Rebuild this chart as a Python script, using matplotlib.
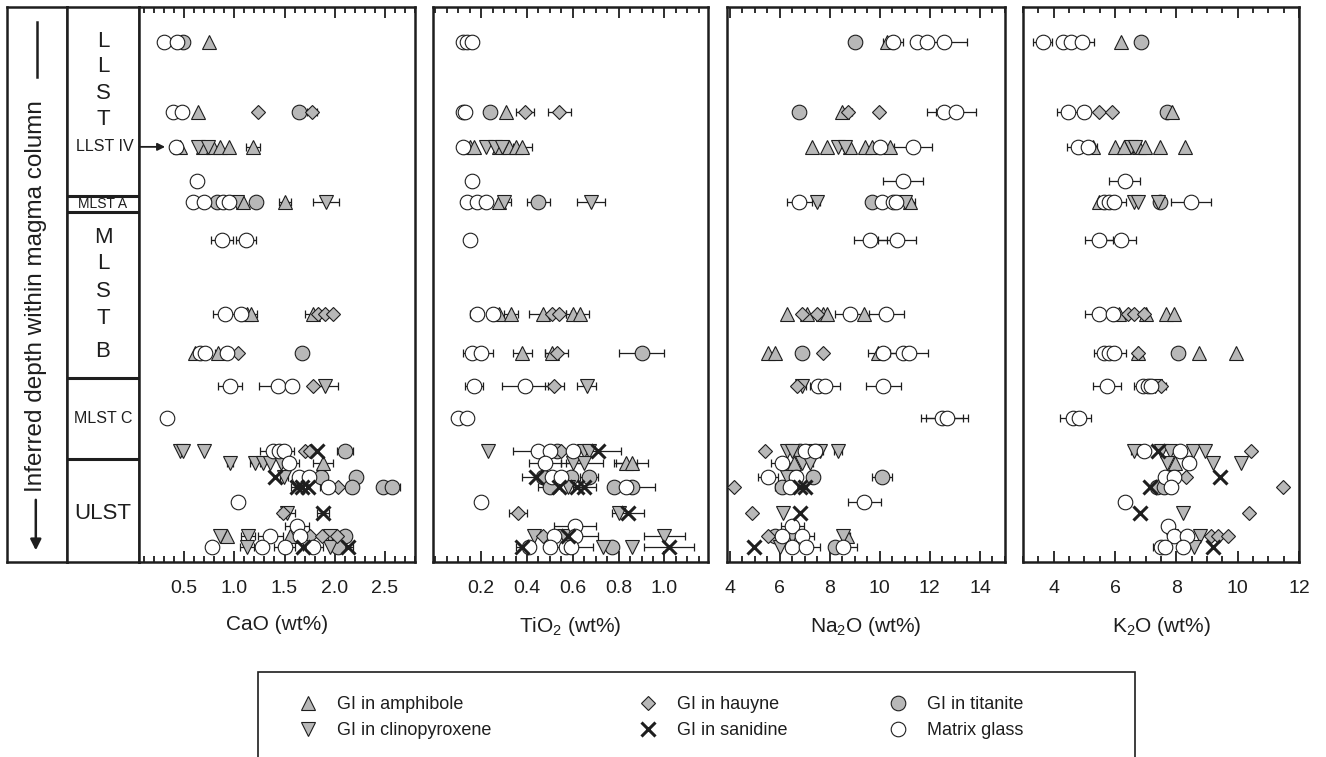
import matplotlib
matplotlib.use('Agg')
from matplotlib import pyplot as plt
from matplotlib.lines import Line2D
from matplotlib.patches import Rectangle
from matplotlib.ticker import MultipleLocator, FormatStrFormatter

plt.rcParams['font.family'] = ['Liberation Sans', 'DejaVu Sans']
plt.rcParams['mathtext.default'] = 'regular'

W, H = 1326, 757
INK = '#1e1e1e'
GREY = '#b8b8b8'

# stratigraphic position of each sampled level (0 = top of column, 100 = base)
ROW_DEPTH = [6.3, 18.9, 25.2, 31.4, 35.1, 42.0, 55.3, 62.3, 68.3, 74.1,
             80.0, 82.2, 84.7, 86.5, 89.2, 91.2, 93.5, 95.3, 97.3]

UNIT_BOUNDS = [34.1, 36.9, 66.8, 81.4]
UNIT_LABELS = [('L', 6.3, 16), ('L', 10.8, 16), ('S', 15.5, 16), ('T', 20.3, 16),
               ('MLST A', 35.5, 10), 
               ('M', 41.6, 16), ('L', 46.3, 16), ('S', 51.2, 16), ('T', 56.2, 16), ('B', 62.0, 16),
               ('MLST C', 74.1, 11.5), ('ULST', 91.2, 16)]

PHASES = ['tit', 'amph', 'cpx', 'hau', 'gl', 'san']
PHASE_NAMES = {'amph': 'GI in amphibole', 'cpx': 'GI in clinopyroxene',
               'hau': 'GI in hauyne', 'san': 'GI in sanidine',
               'tit': 'GI in titanite', 'gl': 'Matrix glass'}

# (row, phase, value wt%, 1 sigma)
CAO = [
    (0, 'gl', 0.30, 0), (0, 'gl', 0.43, 0), (0, 'tit', 0.49, 0), (0, 'amph', 0.75, 0),
    (1, 'gl', 0.39, 0), (1, 'gl', 0.48, 0), (1, 'amph', 0.64, 0), (1, 'hau', 1.24, 0),
    (1, 'tit', 1.64, 0), (1, 'hau', 1.77, 0.05),
    (2, 'gl', 0.42, 0), (2, 'amph', 0.46, 0), (2, 'cpx', 0.64, 0), (2, 'amph', 0.69, 0),
    (2, 'cpx', 0.74, 0), (2, 'amph', 0.79, 0), (2, 'amph', 0.86, 0), (2, 'amph', 0.95, 0),
    (2, 'amph', 1.19, 0.07),
    (3, 'gl', 0.63, 0.05),
    (4, 'gl', 0.59, 0.03), (4, 'gl', 0.70, 0), (4, 'tit', 0.83, 0.03), (4, 'gl', 0.89, 0),
    (4, 'gl', 0.95, 0), (4, 'cpx', 1.03, 0), (4, 'amph', 1.09, 0), (4, 'tit', 1.22, 0),
    (4, 'amph', 1.50, 0.06), (4, 'cpx', 1.91, 0.13),
    (5, 'gl', 0.88, 0.11), (5, 'gl', 1.12, 0.10),
    (6, 'gl', 0.91, 0.12), (6, 'gl', 1.07, 0), (6, 'amph', 1.13, 0), (6, 'amph', 1.17, 0.06),
    (6, 'amph', 1.78, 0.08), (6, 'hau', 1.83, 0), (6, 'hau', 1.90, 0), (6, 'hau', 1.98, 0.03),
    (7, 'amph', 0.61, 0), (7, 'gl', 0.66, 0), (7, 'gl', 0.71, 0), (7, 'amph', 0.84, 0.03),
    (7, 'gl', 0.93, 0), (7, 'hau', 1.04, 0), (7, 'tit', 1.67, 0.02),
    (8, 'gl', 0.96, 0.12), (8, 'gl', 1.43, 0.18), (8, 'gl', 1.57, 0), (8, 'hau', 1.78, 0.02),
    (8, 'cpx', 1.90, 0.13),
    (9, 'gl', 0.33, 0),
    (10, 'cpx', 0.46, 0), (10, 'cpx', 0.49, 0), (10, 'cpx', 0.70, 0), (10, 'gl', 1.39, 0.13),
    (10, 'gl', 1.44, 0), (10, 'gl', 1.49, 0.10), (10, 'hau', 1.70, 0), (10, 'hau', 1.75, 0),
    (10, 'san', 1.82, 0), (10, 'tit', 2.10, 0.08),
    (11, 'cpx', 0.96, 0.03), (11, 'cpx', 1.21, 0.05), (11, 'cpx', 1.29, 0), (11, 'cpx', 1.36, 0),
    (11, 'cpx', 1.46, 0), (11, 'gl', 1.54, 0.10), (11, 'amph', 1.88, 0.10),
    (12, 'san', 1.41, 0), (12, 'cpx', 1.49, 0.04), (12, 'gl', 1.64, 0), (12, 'gl', 1.74, 0),
    (12, 'tit', 1.86, 0), (12, 'tit', 2.21, 0),
    (13, 'san', 1.62, 0.06), (13, 'san', 1.67, 0), (13, 'san', 1.73, 0), (13, 'gl', 1.93, 0.08),
    (13, 'hau', 2.03, 0), (13, 'tit', 2.17, 0), (13, 'tit', 2.48, 0.05), (13, 'tit', 2.57, 0.08),
    (14, 'gl', 1.04, 0.05),
    (15, 'hau', 1.48, 0), (15, 'cpx', 1.52, 0.08), (15, 'san', 1.88, 0.06),
    (16, 'gl', 1.62, 0.12),
    (17, 'cpx', 0.86, 0), (17, 'amph', 0.93, 0), (17, 'cpx', 1.14, 0.07), (17, 'gl', 1.36, 0.12),
    (17, 'amph', 1.55, 0), (17, 'gl', 1.65, 0), (17, 'hau', 1.75, 0), (17, 'hau', 1.87, 0),
    (17, 'cpx', 1.95, 0), (17, 'hau', 2.02, 0.06), (17, 'tit', 2.10, 0),
    (18, 'gl', 0.78, 0), (18, 'cpx', 1.13, 0.07), (18, 'gl', 1.28, 0.05), (18, 'gl', 1.50, 0.10),
    (18, 'san', 1.68, 0), (18, 'gl', 1.78, 0.10), (18, 'cpx', 1.95, 0), (18, 'tit', 2.03, 0),
    (18, 'san', 2.13, 0.05),
]

TIO2 = [
    (0, 'gl', 0.12, 0), (0, 'gl', 0.14, 0), (0, 'gl', 0.16, 0),
    (1, 'gl', 0.12, 0), (1, 'gl', 0.13, 0), (1, 'tit', 0.24, 0.02), (1, 'amph', 0.31, 0),
    (1, 'hau', 0.39, 0.04), (1, 'hau', 0.54, 0.05),
    (2, 'gl', 0.12, 0), (2, 'amph', 0.15, 0), (2, 'amph', 0.17, 0), (2, 'cpx', 0.22, 0),
    (2, 'cpx', 0.26, 0), (2, 'amph', 0.28, 0), (2, 'cpx', 0.29, 0), (2, 'amph', 0.32, 0),
    (2, 'amph', 0.35, 0), (2, 'amph', 0.38, 0.04),
    (3, 'gl', 0.16, 0.01),
    (4, 'gl', 0.14, 0.01), (4, 'gl', 0.18, 0), (4, 'gl', 0.22, 0), (4, 'amph', 0.28, 0),
    (4, 'cpx', 0.30, 0.03), (4, 'tit', 0.45, 0.05), (4, 'cpx', 0.68, 0.06),
    (5, 'gl', 0.15, 0.01),
    (6, 'gl', 0.18, 0.03), (6, 'gl', 0.25, 0), (6, 'amph', 0.28, 0), (6, 'amph', 0.33, 0.03),
    (6, 'amph', 0.47, 0.06), (6, 'hau', 0.51, 0), (6, 'hau', 0.54, 0.03), (6, 'amph', 0.60, 0.03),
    (6, 'amph', 0.63, 0.04),
    (7, 'gl', 0.16, 0.04), (7, 'gl', 0.20, 0.05), (7, 'amph', 0.38, 0.04), (7, 'amph', 0.51, 0.03),
    (7, 'hau', 0.53, 0.05), (7, 'tit', 0.90, 0.10),
    (8, 'gl', 0.17, 0.04), (8, 'gl', 0.39, 0.10), (8, 'hau', 0.52, 0.04), (8, 'cpx', 0.66, 0.04),
    (9, 'gl', 0.10, 0), (9, 'gl', 0.14, 0.01),
    (10, 'cpx', 0.23, 0), (10, 'gl', 0.45, 0.11), (10, 'gl', 0.50, 0), (10, 'tit', 0.53, 0),
    (10, 'hau', 0.55, 0), (10, 'gl', 0.60, 0), (10, 'cpx', 0.65, 0), (10, 'cpx', 0.67, 0),
    (10, 'san', 0.71, 0.10),
    (11, 'gl', 0.48, 0.07), (11, 'cpx', 0.60, 0.05), (11, 'cpx', 0.65, 0.08), (11, 'amph', 0.83, 0.05),
    (11, 'amph', 0.86, 0.07),
    (12, 'san', 0.44, 0.06), (12, 'tit', 0.47, 0), (12, 'gl', 0.51, 0), (12, 'gl', 0.55, 0),
    (12, 'tit', 0.59, 0), (12, 'tit', 0.67, 0.04),
    (13, 'tit', 0.50, 0.05), (13, 'san', 0.54, 0), (13, 'cpx', 0.58, 0), (13, 'san', 0.62, 0),
    (13, 'san', 0.65, 0.05), (13, 'tit', 0.78, 0), (13, 'gl', 0.83, 0), (13, 'tit', 0.86, 0.10),
    (14, 'gl', 0.20, 0),
    (15, 'hau', 0.36, 0.04), (15, 'cpx', 0.80, 0), (15, 'san', 0.84, 0.07),
    (16, 'gl', 0.61, 0.09),
    (17, 'cpx', 0.43, 0), (17, 'hau', 0.47, 0), (17, 'gl', 0.52, 0), (17, 'cpx', 0.56, 0),
    (17, 'san', 0.58, 0), (17, 'gl', 0.61, 0.10), (17, 'cpx', 1.00, 0.09),
    (18, 'san', 0.38, 0.03), (18, 'gl', 0.41, 0), (18, 'gl', 0.50, 0), (18, 'gl', 0.57, 0),
    (18, 'gl', 0.59, 0.10), (18, 'cpx', 0.73, 0), (18, 'tit', 0.77, 0), (18, 'cpx', 0.86, 0),
    (18, 'san', 1.02, 0.11),
]

NA2O = [
    (0, 'tit', 9.02, 0.25), (0, 'amph', 10.29, 0), (0, 'gl', 10.53, 0.4), (0, 'gl', 11.49, 0),
    (0, 'gl', 11.89, 0), (0, 'gl', 12.57, 0.9),
    (1, 'tit', 6.79, 0.15), (1, 'amph', 8.50, 0), (1, 'hau', 8.74, 0.15), (1, 'hau', 9.98, 0.1),
    (1, 'gl', 12.57, 0.7), (1, 'gl', 13.04, 0.8),
    (2, 'amph', 7.31, 0), (2, 'amph', 7.90, 0), (2, 'cpx', 8.34, 0), (2, 'cpx', 8.62, 0.1),
    (2, 'amph', 8.82, 0), (2, 'amph', 9.42, 0), (2, 'amph', 9.70, 0), (2, 'gl', 10.02, 0),
    (2, 'amph', 10.41, 0), (2, 'gl', 11.33, 0.75),
    (3, 'gl', 10.93, 0.8),
    (4, 'gl', 6.79, 0.5), (4, 'cpx', 7.50, 0.1), (4, 'tit', 9.70, 0.2), (4, 'gl', 10.10, 0),
    (4, 'gl', 10.53, 0), (4, 'gl', 10.65, 0), (4, 'cpx', 11.00, 0), (4, 'amph', 11.20, 0.2),
    (5, 'gl', 9.62, 0.65), (5, 'gl', 10.69, 0.75),
    (6, 'amph', 6.31, 0), (6, 'hau', 6.91, 0), (6, 'amph', 7.10, 0), (6, 'hau', 7.51, 0),
    (6, 'amph', 7.75, 0), (6, 'amph', 7.90, 0), (6, 'gl', 8.82, 0.6), (6, 'amph', 9.38, 0),
    (6, 'gl', 10.25, 0.7),
    (7, 'amph', 5.55, 0), (7, 'amph', 5.83, 0), (7, 'tit', 6.91, 0.2), (7, 'hau', 7.75, 0),
    (7, 'amph', 9.94, 0), (7, 'gl', 10.14, 0.6), (7, 'gl', 10.93, 0), (7, 'gl', 11.17, 0.75),
    (8, 'hau', 6.71, 0), (8, 'cpx', 6.91, 0.15), (8, 'gl', 7.55, 0), (8, 'gl', 7.82, 0.6),
    (8, 'gl', 10.14, 0.7),
    (9, 'gl', 12.49, 0.85), (9, 'gl', 12.69, 0.85),
    (10, 'hau', 5.43, 0), (10, 'cpx', 6.31, 0), (10, 'cpx', 6.50, 0), (10, 'tit', 6.83, 0.3),
    (10, 'gl', 7.00, 0), (10, 'cpx', 7.30, 0), (10, 'gl', 7.43, 0.3), (10, 'cpx', 7.63, 0),
    (10, 'cpx', 8.34, 0.15),
    (11, 'gl', 6.11, 0.45), (11, 'amph', 6.59, 0), (11, 'cpx', 6.91, 0), (11, 'cpx', 7.23, 0.1),
    (12, 'gl', 5.55, 0.4), (12, 'cpx', 6.31, 0), (12, 'gl', 6.67, 0), (12, 'tit', 7.35, 0.2),
    (12, 'tit', 10.10, 0.4),
    (13, 'hau', 4.16, 0), (13, 'tit', 6.11, 0.3), (13, 'gl', 6.43, 0), (13, 'san', 6.83, 0),
    (13, 'san', 7.03, 0),
    (14, 'gl', 9.38, 0.65),
    (15, 'hau', 4.88, 0), (15, 'cpx', 6.15, 0), (15, 'san', 6.83, 0),
    (16, 'gl', 6.51, 0.45),
    (17, 'hau', 5.55, 0), (17, 'tit', 5.83, 0), (17, 'gl', 6.11, 0.2), (17, 'cpx', 6.51, 0),
    (17, 'gl', 6.91, 0.45), (17, 'cpx', 8.54, 0), (17, 'amph', 8.70, 0.1),
    (18, 'san', 4.96, 0), (18, 'cpx', 6.03, 0), (18, 'gl', 6.51, 0), (18, 'gl', 7.07, 0.55),
    (18, 'tit', 8.22, 0.1), (18, 'gl', 8.54, 0.55),
]

K2O = [
    (0, 'gl', 3.64, 0.3), (0, 'gl', 4.29, 0), (0, 'gl', 4.56, 0), (0, 'gl', 4.92, 0.4),
    (0, 'amph', 6.19, 0), (0, 'tit', 6.84, 0),
    (1, 'gl', 4.46, 0.35), (1, 'gl', 4.98, 0), (1, 'hau', 5.47, 0), (1, 'hau', 5.90, 0),
    (1, 'tit', 7.69, 0), (1, 'amph', 7.86, 0),
    (2, 'gl', 4.78, 0.35), (2, 'gl', 5.11, 0), (2, 'amph', 5.27, 0.15), (2, 'amph', 5.99, 0),
    (2, 'amph', 6.29, 0), (2, 'cpx', 6.52, 0), (2, 'cpx', 6.65, 0), (2, 'amph', 6.78, 0),
    (2, 'amph', 6.97, 0), (2, 'amph', 7.46, 0), (2, 'amph', 8.28, 0),
    (3, 'gl', 6.32, 0.5),
    (4, 'amph', 5.47, 0), (4, 'gl', 5.63, 0.2), (4, 'gl', 5.80, 0), (4, 'gl', 5.96, 0.4),
    (4, 'cpx', 6.61, 0), (4, 'cpx', 6.74, 0), (4, 'cpx', 7.40, 0), (4, 'tit', 7.46, 0),
    (4, 'gl', 8.48, 0.65),
    (5, 'gl', 5.47, 0.45), (5, 'gl', 6.19, 0.5),
    (6, 'gl', 5.47, 0.45), (6, 'gl', 5.93, 0), (6, 'amph', 6.12, 0), (6, 'hau', 6.42, 0),
    (6, 'hau', 6.61, 0), (6, 'hau', 6.94, 0), (6, 'amph', 7.00, 0), (6, 'amph', 7.66, 0),
    (6, 'amph', 7.92, 0),
    (7, 'gl', 5.63, 0.3), (7, 'gl', 5.80, 0), (7, 'gl', 5.96, 0.4), (7, 'amph', 6.74, 0),
    (7, 'hau', 6.74, 0), (7, 'tit', 8.05, 0), (7, 'amph', 8.74, 0), (7, 'amph', 9.95, 0),
    (8, 'gl', 5.73, 0.45), (8, 'gl', 6.91, 0.3), (8, 'gl', 7.07, 0), (8, 'gl', 7.17, 0),
    (8, 'cpx', 7.30, 0), (8, 'hau', 7.50, 0.15),
    (9, 'gl', 4.62, 0.4), (9, 'gl', 4.82, 0.4),
    (10, 'cpx', 6.61, 0.1), (10, 'gl', 6.94, 0), (10, 'san', 7.40, 0), (10, 'cpx', 7.50, 0),
    (10, 'cpx', 7.79, 0), (10, 'gl', 8.12, 0), (10, 'cpx', 8.54, 0), (10, 'cpx', 8.93, 0),
    (10, 'hau', 10.44, 0),
    (11, 'cpx', 7.69, 0), (11, 'amph', 7.95, 0), (11, 'gl', 8.41, 0.2), (11, 'cpx', 9.20, 0),
    (11, 'cpx', 10.11, 0),
    (12, 'gl', 7.63, 0), (12, 'gl', 7.92, 0), (12, 'hau', 8.31, 0), (12, 'san', 9.43, 0),
    (13, 'san', 7.14, 0), (13, 'tit', 7.37, 0), (13, 'tit', 7.60, 0), (13, 'gl', 7.82, 0),
    (13, 'hau', 11.48, 0),
    (14, 'gl', 6.32, 0.2),
    (15, 'san', 6.81, 0), (15, 'cpx', 8.22, 0), (15, 'hau', 10.37, 0),
    (16, 'gl', 7.73, 0.2),
    (17, 'cpx', 7.82, 0), (17, 'gl', 7.92, 0), (17, 'gl', 8.35, 0.2), (17, 'cpx', 8.77, 0),
    (17, 'hau', 9.13, 0), (17, 'hau', 9.36, 0), (17, 'hau', 9.69, 0),
    (18, 'gl', 7.50, 0.25), (18, 'gl', 7.63, 0), (18, 'gl', 8.22, 0), (18, 'cpx', 8.58, 0),
    (18, 'san', 9.20, 0),
]


def marker_style(phase):
    base = dict(linestyle='none', markeredgecolor=INK, markeredgewidth=0.8, markersize=10.5)
    if phase == 'amph':
        base.update(marker='^', markerfacecolor=GREY)
    elif phase == 'cpx':
        base.update(marker='v', markerfacecolor=GREY)
    elif phase == 'hau':
        base.update(marker='D', markerfacecolor=GREY, markersize=7.5)
    elif phase == 'san':
        base.update(marker='x', markeredgewidth=2.2, markersize=10.5)
    elif phase == 'tit':
        base.update(marker='o', markerfacecolor=GREY)
    else:
        base.update(marker='o', markerfacecolor='white')
    return base


def px_axes(fig, x0, y0, x1, y1):
    """Add an axes given its pixel box (left, top, right, bottom)."""
    return fig.add_axes([x0 / W, 1 - y1 / H, (x1 - x0) / W, (y1 - y0) / H])


def frame(ax, lw=1.8):
    for side in ax.spines.values():
        side.set_linewidth(lw)
        side.set_color(INK)


def draw_panel(ax, data, label, xlim, major, minor, fmt):
    ax.set_xlim(*xlim)
    ax.set_ylim(100, 0)
    ax.set_yticks([])
    ax.xaxis.set_major_locator(MultipleLocator(major))
    ax.xaxis.set_minor_locator(MultipleLocator(minor))
    ax.xaxis.set_major_formatter(FormatStrFormatter(fmt))
    ax.tick_params(axis='x', which='both', direction='in', top=True, bottom=True,
                   width=1.3, color=INK, labelsize=14, pad=13, labelcolor=INK)
    ax.tick_params(axis='x', which='major', length=8)
    ax.tick_params(axis='x', which='minor', length=4.5)
    ax.set_xlabel(label, fontsize=15, labelpad=13, color=INK)
    frame(ax)

    err_x = [v for r, p, v, e in data if e > 0]
    err_y = [ROW_DEPTH[r] for r, p, v, e in data if e > 0]
    err_e = [e for r, p, v, e in data if e > 0]
    ax.errorbar(err_x, err_y, xerr=err_e, fmt='none', ecolor=INK, elinewidth=0.9,
                capsize=3, capthick=0.9, zorder=2)

    for i, phase in enumerate(PHASES):
        xs = [v for r, p, v, e in data if p == phase]
        ys = [ROW_DEPTH[r] for r, p, v, e in data if p == phase]
        ax.plot(xs, ys, zorder=3 + i, **marker_style(phase))


fig = plt.figure(figsize=(W / 100, H / 100), dpi=100)

# depth arrow column
ax_depth = px_axes(fig, 7, 7, 67, 562)
ax_depth.set_xlim(0, 1)
ax_depth.set_ylim(100, 0)
ax_depth.set_xticks([])
ax_depth.set_yticks([])
frame(ax_depth)
ax_depth.plot([0.5, 0.5], [2.7, 12.6], color=INK, lw=1.8)
ax_depth.annotate('', xy=(0.48, 98.4), xytext=(0.48, 88.3),
                  arrowprops=dict(arrowstyle='-|>', color=INK, lw=1.8, mutation_scale=16))
ax_depth.text(0.48, 52.0, 'Inferred depth within magma column', rotation=90,
              ha='center', va='center', fontsize=17.5, color=INK)

# stratigraphic unit column
ax_unit = px_axes(fig, 67, 7, 139, 562)
ax_unit.set_xlim(0, 1)
ax_unit.set_ylim(100, 0)
ax_unit.set_xticks([])
ax_unit.set_yticks([])
frame(ax_unit)
for b in UNIT_BOUNDS:
    ax_unit.axhline(b, color=INK, lw=2.2)
for text, depth, size in UNIT_LABELS:
    ax_unit.text(0.5, depth, text, ha='center', va='center', fontsize=size, color=INK)

panels = [
    (px_axes(fig, 139, 7, 415, 562), CAO, 'CaO (wt%)', (0.05, 2.8), 0.5, 0.1, '%.1f'),
    (px_axes(fig, 433, 7, 708, 562), TIO2, 'TiO$_2$ (wt%)', (-0.01, 1.19), 0.2, 0.05, '%.1f'),
    (px_axes(fig, 727, 7, 1005, 562), NA2O, 'Na$_2$O (wt%)', (3.9, 15.0), 2, 0.5, '%d'),
    (px_axes(fig, 1023, 7, 1299, 562), K2O, 'K$_2$O (wt%)', (3.0, 12.0), 2, 0.5, '%d'),
]
for ax, data, label, xlim, major, minor, fmt in panels:
    draw_panel(ax, data, label, xlim, major, minor, fmt)
panels[1][0].set_xticks([0.2, 0.4, 0.6, 0.8, 1.0])
panels[2][0].set_xticks([4, 6, 8, 10, 12, 14])

ax_cao = panels[0][0]
ax_cao.annotate('LLST IV', xy=(0.31, ROW_DEPTH[2]), xycoords='data',
                xytext=(0.53, ROW_DEPTH[2]), textcoords=ax_unit.transData,
                ha='center', va='center', fontsize=11.5, color=INK,
                arrowprops=dict(arrowstyle='-|>', color=INK, lw=1.3, mutation_scale=11,
                                shrinkA=2, shrinkB=0),
                annotation_clip=False)

# legend: three columns in an open-bottomed box
fig.add_artist(Rectangle((258 / W, -0.05), (1135 - 258) / W, (757 - 672) / H + 0.05,
                         transform=fig.transFigure, fill=False, lw=1.2, ec=INK))
columns = [(['amph', 'cpx'], 308), (['hau', 'san'], 648), (['tit', 'gl'], 898)]
for phases, x_mark in columns:
    handles = [Line2D([], [], **marker_style(p)) for p in phases]
    labels = [PHASE_NAMES[p] for p in phases]
    fig.legend(handles, labels, loc='center left',
               bbox_to_anchor=((x_mark - 9) / W, 1 - 717.5 / H),
               frameon=False, fontsize=13, handlelength=1.0, handletextpad=1.1,
               labelspacing=0.5, borderpad=0, borderaxespad=0, labelcolor=INK)

fig.savefig('out.png', dpi=100)
